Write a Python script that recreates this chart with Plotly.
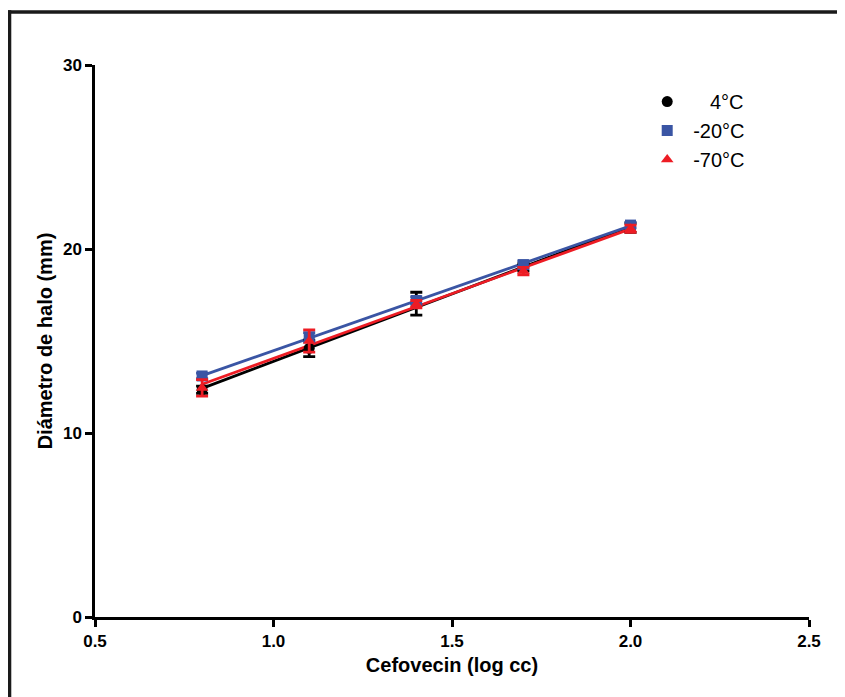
import numpy as np
import plotly.graph_objects as go

x_vals = [0.8, 1.1, 1.4, 1.7, 2.0]
series_names = ["\u00a0\u00a0\u00a04°C", "-20°C", "-70°C"]
y_4c = [12.35, 14.6, 17.03, 19.0, 21.15]
e_4c = [0.2, 0.45, 0.62, 0.2, 0.25]
y_m20 = [13.1, 15.2, 17.2, 19.15, 21.3]
e_m20 = [0.15, 0.25, 0.2, 0.2, 0.15]
y_m70 = [12.45, 15.0, 17.0, 18.8, 21.1]
e_m70 = [0.45, 0.6, 0.2, 0.2, 0.2]

colors = ["#000000", "#3a55a4", "#ed1c24"]
symbols = ["circle", "square", "triangle-up"]

fig = go.Figure()
data = [(y_4c, e_4c), (y_m20, e_m20), (y_m70, e_m70)]

xs = np.array(x_vals)
for (ys, es), c in zip(data, colors):
    k, b = np.polyfit(xs, np.array(ys), 1)
    xl = np.array([xs.min(), xs.max()])
    fig.add_trace(go.Scatter(x=xl, y=k * xl + b, mode="lines",
                             line=dict(color=c, width=2.8), showlegend=False,
                             hoverinfo="skip"))

for (ys, es), c, s, n in zip(data, colors, symbols, series_names):
    fig.add_trace(go.Scatter(
        x=x_vals, y=ys, mode="markers", name=n,
        marker=dict(color=c, symbol=s, size=11),
        error_y=dict(type="data", array=es, visible=True, color=c,
                     thickness=2.8, width=6)))

fig.update_layout(
    width=845, height=697,
    margin=dict(l=87, r=44, t=57, b=88),
    paper_bgcolor="white", plot_bgcolor="white",
    font=dict(family="Arial, Liberation Sans, sans-serif", color="black"),
    legend=dict(x=0.765, y=0.969, xanchor="left", yanchor="top",
                font=dict(size=20), itemwidth=42,
                bgcolor="rgba(0,0,0,0)"),
    xaxis=dict(range=[0.5, 2.5], tickvals=[0.5, 1.0, 1.5, 2.0, 2.5],
               ticktext=["0.5", "1.0", "1.5", "2.0", "2.5"],
               showline=True, linecolor="black", linewidth=2.5,
               ticks="outside", ticklen=7, tickwidth=2.5, tickcolor="black",
               showgrid=False, zeroline=False,
               tickfont=dict(size=17, family="Arial, Liberation Sans", weight="bold"),
               title=dict(text="<b>Cefovecin (log cc)</b>", font=dict(size=20),
                          standoff=8)),
    yaxis=dict(range=[0, 30], tickvals=[0, 10, 20, 30],
               showline=True, linecolor="black", linewidth=2.5,
               ticks="outside", ticklen=7, tickwidth=2.5, tickcolor="black",
               showgrid=False, zeroline=False,
               tickfont=dict(size=17, family="Arial, Liberation Sans", weight="bold"),
               title=dict(text="<b>Diámetro de halo (mm)</b>", font=dict(size=20),
                          standoff=5)),
)

# frame around the figure (top and left edges visible)
fig.add_shape(type="line", xref="paper", yref="paper",
              x0=-0.125, x1=1.06, y0=1.096, y1=1.096,
              line=dict(color="#1a1a1a", width=3.5))
fig.add_shape(type="line", xref="paper", yref="paper",
              x0=-0.1197, x1=-0.1197, y0=1.099, y1=-0.16,
              line=dict(color="#1a1a1a", width=3.5))

fig.write_html("out.html")
